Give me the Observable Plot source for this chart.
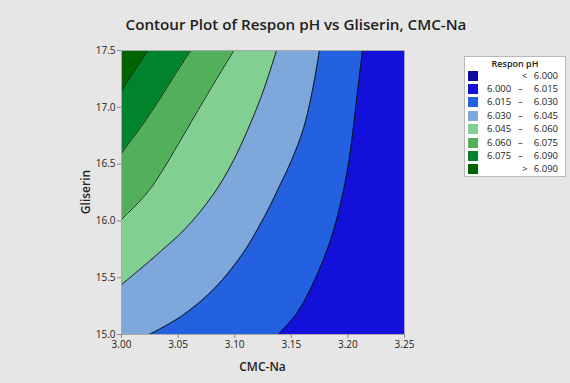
<!DOCTYPE html>
<html><head><meta charset="utf-8">
<script src="https://cdn.jsdelivr.net/npm/d3@7"></script>
<script src="https://cdn.jsdelivr.net/npm/@observablehq/plot@0.6"></script>
<style>
html,body{margin:0;padding:0;background:#e6e6e6;}
#wrap{position:relative;width:570px;height:383px;background:#e6e6e6;font-family:"Open Sans",sans-serif;overflow:hidden;color:#222}
#title{position:absolute;left:0;width:592px;top:14px;text-align:center;font-size:15.2px;font-weight:600;color:#1e1e1e;white-space:nowrap}
#xlab{position:absolute;left:121px;width:283px;top:358px;text-align:center;font-size:12px;font-weight:600;color:#222}
#ylab{position:absolute;left:85px;top:192px;transform:translate(-50%,-50%) rotate(-90deg);font-size:12px;font-weight:600;color:#222;white-space:nowrap}
#legend{position:absolute;left:464px;top:56px;width:102px;height:121px;background:#fff;border:1px solid #b9b9b9;box-sizing:border-box}
#legend .lt{position:absolute;left:0;width:100%;top:2px;height:10px;line-height:10px;text-align:center;font-size:9px;font-weight:600;color:#222}
#legend .row{position:absolute;left:0;width:100%;height:12px;font-size:9.5px;line-height:12px;color:#222}
#legend .sw{position:absolute;left:3px;top:1px;width:10px;height:10px}
#legend .a{position:absolute;left:22px;top:0}
#legend .d{position:absolute;left:53px;top:0}
#legend .b{position:absolute;right:7px;text-align:right;top:0}
</style></head><body><div id="wrap"><div id="title"></div><div id="xlab"></div><div id="ylab"></div><div id="legend"></div></div>
<script>
const titleText = "Contour Plot of Respon pH vs Gliserin, CMC-Na";
const xLabel = "CMC-Na";
const yLabel = "Gliserin";
const xTicks = [3.00, 3.05, 3.10, 3.15, 3.20, 3.25];
const yTicks = [15.0, 15.5, 16.0, 16.5, 17.0, 17.5];
const legendTitle = "Respon pH";
const bandLow  = ["<",    "6.000", "6.015", "6.030", "6.045", "6.060", "6.075", ">"];
const bandHigh = ["6.000","6.015", "6.030", "6.045", "6.060", "6.075", "6.090", "6.090"];
const bandColors = ["#0c0ca6", "#1410dc", "#2461e0", "#7ea8dc", "#82cf92", "#52b05a", "#00832a", "#006400"];
const levels = [6.015, 6.030, 6.045, 6.060, 6.075, 6.090];
// contour boundaries [CMC-Na, Gliserin]
const c6015 = [[3.2129,17.5],[3.2076,17.060],[3.2023,16.620],[3.1952,16.224],[3.1846,15.827],[3.1705,15.475],[3.1555,15.194],[3.1387,15.0]];
const c6030 = [[3.1749,17.5],[3.1687,17.148],[3.1608,16.813],[3.1502,16.532],[3.1378,16.268],[3.1254,16.021],[3.1078,15.722],[3.083,15.414],[3.0539,15.167],[3.0247,15.0]];
const c6045 = [[3.1369,17.5],[3.1228,17.077],[3.0989,16.532],[3.0804,16.224],[3.0565,15.933],[3.0345,15.731],[3.015,15.563],[3.00,15.440]];
const c6060 = [[3.0992,17.5],[3.0742,17.086],[3.0504,16.681],[3.0345,16.417],[3.0256,16.285],[3.0150,16.162],[3.0062,16.074],[3.00,16.012]];
const c6075 = [[3.061,17.5],[3.0451,17.254],[3.0300,17.016],[3.0168,16.822],[3.0062,16.681],[3.00,16.593]];
const c6090 = [[3.0232,17.5],[3.0124,17.339],[3.00,17.148]];
const contours = [c6015, c6030, c6045, c6060, c6075, c6090];

const xMin = xTicks[0], xMax = xTicks[xTicks.length - 1];
const asRows = (c) => c.map(([x, y]) => ({x, y})).sort((a, b) => a.y - b.y);

const marks = [Plot.frame({fill: bandColors[1]})];
contours.forEach((c, i) => {
  marks.push(Plot.areaX(asRows(c), {x1: () => xMin, x2: "x", y: "y", fill: bandColors[i + 2], curve: "catmull-rom", clip: true}));
});
contours.forEach((c) => {
  marks.push(Plot.line(asRows(c), {x: "x", y: "y", stroke: "#111", strokeWidth: 0.9, curve: "catmull-rom", clip: true}));
});
marks.push(Plot.frame({stroke: "#a8a8a8"}));
marks.push(Plot.axisX(xTicks, {tickFormat: d3.format(".2f"), tickSize: 4, tickPadding: 2, stroke: "#8a8a8a", label: null}));
marks.push(Plot.axisY(yTicks, {tickFormat: d3.format(".1f"), tickSize: 4, tickPadding: 2, stroke: "#8a8a8a", label: null}));

const chart = Plot.plot({
  width: 570, height: 383,
  marginLeft: 121, marginRight: 166, marginTop: 50, marginBottom: 49,
  x: {domain: [xMin, xMax]},
  y: {domain: [yTicks[0], yTicks[yTicks.length - 1]]},
  style: {background: "transparent", fontFamily: "Open Sans, sans-serif", fontSize: "10px", color: "#222"},
  marks
});
chart.style.position = "absolute";
chart.style.left = "0px";
chart.style.top = "0px";
const wrap = document.getElementById("wrap");
wrap.insertBefore(chart, wrap.firstChild);

document.getElementById("title").textContent = titleText;
document.getElementById("xlab").textContent = xLabel;
document.getElementById("ylab").textContent = yLabel;

const lg = document.getElementById("legend");
const lt = document.createElement("div"); lt.className = "lt"; lt.textContent = legendTitle; lg.appendChild(lt);
bandColors.forEach((col, i) => {
  const r = document.createElement("div"); r.className = "row"; r.style.top = (12.5 + i * 13.4) + "px";
  const sw = document.createElement("div"); sw.className = "sw"; sw.style.background = col; r.appendChild(sw);
  const lo = bandLow[i], hi = bandHigh[i];
  if (lo === "<" || lo === ">") {
    const s = document.createElement("div"); s.className = "d"; s.style.left = "57px"; s.textContent = lo; r.appendChild(s);
  } else {
    const a = document.createElement("div"); a.className = "a"; a.textContent = lo; r.appendChild(a);
    const d = document.createElement("div"); d.className = "d"; d.textContent = "–"; r.appendChild(d);
  }
  const b = document.createElement("div"); b.className = "b"; b.textContent = hi; r.appendChild(b);
  lg.appendChild(r);
});
</script></body></html>
